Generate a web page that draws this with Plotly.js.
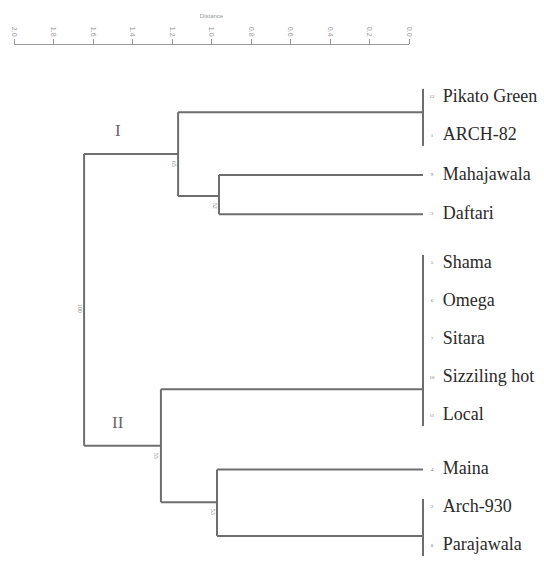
<!DOCTYPE html>
<html>
<head>
<meta charset="utf-8">
<script src="https://cdn.plot.ly/plotly-3.0.1.min.js"></script>
<style>html,body{margin:0;padding:0;background:#fff;}#chart{width:544px;height:565px;}</style>
</head>
<body>
<div id="chart"></div>
<script>
// ---- data ----
const leafNames = ['Pikato Green','ARCH-82','Mahajawala','Daftari','Shama','Omega','Sitara','Sizziling hot','Local','Maina','Arch-930','Parajawala'];
const leafIds   = ['12','1','9','3','5','6','7','10','11','4','2','8'];
const leafOrder = [0, 1.0, 2.01, 3.02, 4.28, 5.26, 6.24, 7.24, 8.22, 9.6, 10.57, 11.57];

// clusters: name, merge distance, children (leaf index numbers or cluster names), support value
const clusterNames    = ['A', 'B', 'C', 'D', 'E', 'F', 'G', 'R'];
const clusterHeight   = [0, 1.033, 1.24, 0, 0, 1.043, 1.327, 1.716];
const clusterChildren = [[0,1], [2,3], ['A','B'], [4,5,6,7,8], [10,11], [9,'E'], ['D','F'], ['C','G']];
const clusterJoin     = [0.39, 2.55, 1.47, 7.53, 11.31, 10.44, 8.99, null];
const clusterSupport  = ['', '52', '65', '', '', '53', '55', '100'];
const groupLabels     = ['I', 'II'];
const groupOf         = ['C', 'G'];

const scaleTicks = [2.0, 1.8, 1.6, 1.4, 1.2, 1.0, 0.8, 0.6, 0.4, 0.2, 0.0];

// ---- build segments ----
const idx = n => clusterNames.indexOf(n);
function nodeY(c){ return typeof c === 'number' ? leafOrder[c] : clusterJoin[idx(c)]; }
function nodeH(c){ return typeof c === 'number' ? 0 : clusterHeight[idx(c)]; }

const lx = [], ly = [];
function seg(x0,y0,x1,y1){ lx.push(x0,x1,null); ly.push(y0,y1,null); }
clusterNames.forEach((n,i)=>{
  const ch = clusterChildren[i];
  const h = clusterHeight[i];
  const ys = ch.map(nodeY);
  let lo = Math.min(...ys), hi = Math.max(...ys);
  if (h === 0) { lo -= 0.21; hi += 0.26; }
  seg(h, lo, h, hi);
  if (h > 0) ch.forEach(c => { const y = nodeY(c); seg(h, y, nodeH(c), y); });
});

const annotations = [];
clusterNames.forEach((n,i)=>{
  if (!clusterSupport[i]) return;
  const ch = clusterChildren[i];
  let y;
  if (clusterJoin[i] === null) { const ys = ch.map(nodeY); y = (ys[0]+ys[1])/2 + 0.2; }
  else y = clusterJoin[i] + 0.25;
  annotations.push({x: clusterHeight[i], y: y, xref:'x', yref:'y', text: clusterSupport[i], xshift:-4,
    showarrow:false, textangle:90, font:{family:'Liberation Serif', size:6, color:'#888'}});
});
groupLabels.forEach((g,k)=>{
  const i = idx(groupOf[k]);
  annotations.push({x: 1.544, y: clusterJoin[i] - (k===0 ? 0.62 : 0.61), xref:'x', yref:'y', text: g,
    showarrow:false, font:{family:'Liberation Serif', size:17, color:'#666'}});
});

const traces = [
  {x: [scaleTicks[0], scaleTicks[scaleTicks.length-1]], y:[-50,-50], xaxis:'x2', yaxis:'y',
   mode:'markers', marker:{opacity:0}, hoverinfo:'skip', showlegend:false},
  {x: lx, y: ly, mode:'lines', line:{color:'#6e6e6e', width:2}, hoverinfo:'skip', showlegend:false},
  {x: leafNames.map(()=>-0.1), y: leafOrder, mode:'text', text: leafNames, textposition:'middle right',
   textfont:{family:'Liberation Serif', size:18, color:'#2a2a2a'}, hoverinfo:'skip', showlegend:false},
  {x: leafIds.map(()=>-0.045), y: leafOrder, mode:'text', text: leafIds, textposition:'middle center',
   textfont:{family:'Liberation Serif', size:5, color:'#777'}, hoverinfo:'skip', showlegend:false}
];

const W = 544, H = 565;
const layout = {
  width: W, height: H,
  margin:{l:0, r:0, t:0, b:0},
  paper_bgcolor:'#fff', plot_bgcolor:'rgba(0,0,0,0)',
  xaxis:{range:[2.1418, -0.6127], domain:[0,1], visible:false, fixedrange:true},
  yaxis:{range:[12.06, -2.5], domain:[0,1], visible:false, fixedrange:true},
  xaxis2:{range:[2.0, 0.0], domain:[14/W, 409/W], anchor:'free', position: 1 - 44/H, side:'top',
    tickvals: scaleTicks, ticktext: scaleTicks.map(v=>v.toFixed(1)), tickangle:90,
    ticks:'outside', ticklen:5, tickcolor:'#999', tickwidth:1,
    showline:true, linecolor:'#999', linewidth:1, showgrid:false, zeroline:false,
    tickfont:{family:'Liberation Sans', size:7, color:'#999'},
    title:{text:'Distance', font:{family:'Liberation Sans', size:6, color:'#999'}, standoff:6},
    fixedrange:true},
  annotations: annotations,
  showlegend:false
};
Plotly.newPlot('chart', traces, layout, {staticPlot:true, displayModeBar:false});
</script>
</body>
</html>
